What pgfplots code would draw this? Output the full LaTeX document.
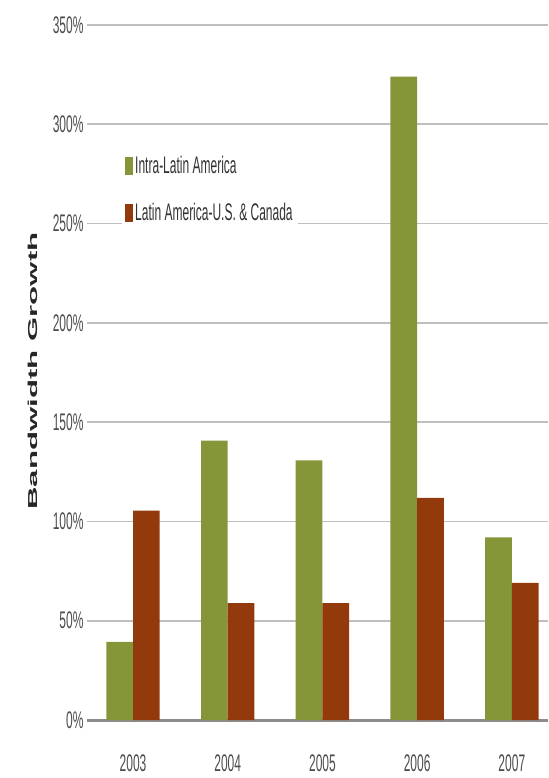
\documentclass[border=0pt]{standalone}
\usepackage{fontspec}
\usepackage{pgfplots}
\pgfplotsset{compat=1.18}
\setmainfont{Liberation Sans}
\newfontfamily\condfont[FakeStretch=0.5]{Liberation Sans}
\newfontfamily\labfont[FakeStretch=2.4]{Liberation Sans}
\definecolor{grn}{RGB}{133,150,56}
\definecolor{brn}{RGB}{146,58,11}
\pgfplotsset{/pgfplots/ybar legend/.style={/pgfplots/legend image code/.code={\fill[##1] (0pt,-9pt) rectangle (8pt,9pt);}}}
\begin{document}
\begin{tikzpicture}
\begin{axis}[
  scale only axis, width=461pt, height=695pt,
  ymin=0, ymax=350, xmin=-0.486, xmax=4.382,
  ybar=0pt, bar width=26.7pt,
  xtick={0,1,2,3,4}, xticklabels={2003,2004,2005,2006,2007},
  ytick={0,50,100,150,200,250,300,350},
  yticklabel={\pgfmathprintnumber{\tick}\%},
  /pgf/number format/assume math mode=true,
  axis x line*=bottom, axis y line*=left,
  y axis line style={draw=none},
  x axis line style={-, draw=black!45, line width=3pt},
  major tick length=0pt,
  ymajorgrids, grid style={draw=black!25, line width=1.8pt},
  yticklabel style={font=\condfont\fontsize{24}{24}\selectfont, text=black!70},
  xticklabel style={font=\condfont\fontsize{24}{24}\selectfont, text=black!70, anchor=center, yshift=-43pt},
  ylabel={\labfont\bfseries\fontsize{13}{13}\selectfont Bandwidth Growth},
  ylabel style={at={(axis description cs:-0.117,0.502)}, anchor=center, text=black!85},
  legend style={at={(axis description cs:0.076,0.709)}, anchor=south west, fill=white, draw=none,
    font=\condfont\fontsize{24}{24}\selectfont, text=black!80, inner xsep=3pt, inner ysep=3pt, row sep=24pt},
  legend cell align=left,
]
\addplot[fill=grn, draw=none] coordinates {(0,39.4) (1,140.7) (2,130.7) (3,324) (4,92)};
\addplot[fill=brn, draw=none] coordinates {(0,105.5) (1,58.8) (2,58.8) (3,111.8) (4,69)};
\legend{Intra-Latin America, Latin America-U.S. \& Canada}
\end{axis}
\pgfresetboundingbox
\path[use as bounding box] ([xshift=-87pt,yshift=-58pt]current axis.south west) rectangle ([yshift=25pt]current axis.north east);
\end{tikzpicture}
\end{document}
